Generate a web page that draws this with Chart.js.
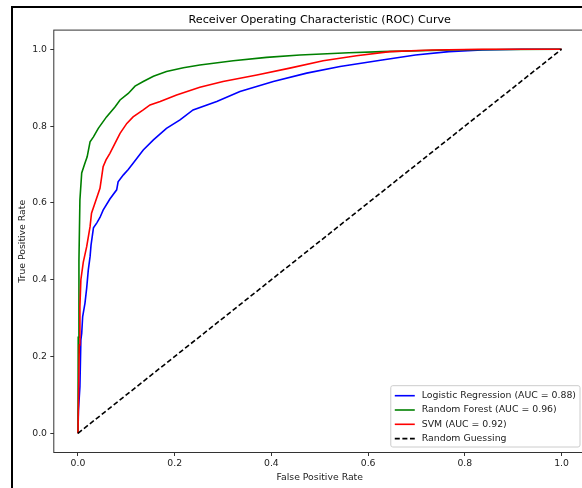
<!DOCTYPE html>
<html>
<head>
<meta charset="utf-8">
<title>ROC Curve</title>
<script src="https://cdn.jsdelivr.net/npm/chart.js@4.4.1/dist/chart.umd.min.js"></script>
<style>
  html, body { margin: 0; padding: 0; background: #fff; overflow: hidden; }
  #wrap { position: relative; width: 582px; height: 488px; overflow: hidden; background: #fff; }
  #rocChart { position: absolute; left: 0; top: 0; }
  #frame {
    position: absolute; left: 11px; top: 6px; width: 700px; height: 600px;
    border-left: 2px solid #000; border-top: 2px solid #000; pointer-events: none;
  }
</style>
</head>
<body>
<div id="wrap">
  <canvas id="rocChart" width="600" height="488"></canvas>
  <div id="frame"></div>
</div>
<script>
// ROC curve points (false positive rate / true positive rate) per model
const lrFpr = [0, 0.001, 0.004, 0.006, 0.0077, 0.0097, 0.0145, 0.018, 0.0213, 0.025,
               0.027, 0.032, 0.039, 0.0455, 0.052, 0.066, 0.08, 0.083, 0.094, 0.104,
               0.114, 0.135, 0.156, 0.183, 0.211, 0.238, 0.287, 0.335, 0.404, 0.473,
               0.542, 0.629, 0.698, 0.767, 0.836, 0.918, 1.0];
const lrTpr = [0, 0.06, 0.121, 0.243, 0.26, 0.304, 0.339, 0.378, 0.425, 0.46,
               0.49, 0.535, 0.548, 0.562, 0.581, 0.61, 0.634, 0.655, 0.673, 0.687,
               0.703, 0.738, 0.764, 0.794, 0.816, 0.842, 0.864, 0.89, 0.916, 0.938,
               0.955, 0.972, 0.985, 0.994, 0.998, 1.0, 1.0];

const rfFpr = [0, 0.0005, 0.002, 0.004, 0.0077, 0.0145, 0.019, 0.025, 0.032, 0.042,
               0.059, 0.0765, 0.087, 0.104, 0.118, 0.135, 0.156, 0.183, 0.218, 0.252,
               0.321, 0.39, 0.459, 0.56, 0.629, 0.79, 1.0];
const rfTpr = [0, 0.25, 0.45, 0.608, 0.678, 0.704, 0.72, 0.759, 0.772, 0.794,
               0.824, 0.85, 0.868, 0.885, 0.904, 0.916, 0.93, 0.942, 0.952, 0.959,
               0.97, 0.979, 0.985, 0.991, 0.994, 0.999, 1.0];

const svmFpr = [0, 0.0014, 0.0027, 0.004, 0.006, 0.011, 0.018, 0.025, 0.028, 0.035,
                0.042, 0.0455, 0.049, 0.052, 0.058, 0.066, 0.0765, 0.087, 0.101, 0.114,
                0.135, 0.149, 0.17, 0.204, 0.252, 0.3, 0.37, 0.438, 0.507, 0.576,
                0.645, 0.732, 0.836, 1.0];
const svmTpr = [0, 0.113, 0.23, 0.33, 0.40, 0.446, 0.486, 0.538, 0.573, 0.599,
                0.625, 0.638, 0.668, 0.694, 0.712, 0.729, 0.755, 0.781, 0.807, 0.824,
                0.842, 0.855, 0.864, 0.881, 0.901, 0.916, 0.933, 0.951, 0.97, 0.983,
                0.994, 0.998, 1.0, 1.0];

const diagFpr = [0, 1];
const diagTpr = [0, 1];

const aucValues = { lr: 0.88, rf: 0.96, svm: 0.92 };
const tickValues = [0, 0.2, 0.4, 0.6, 0.8, 1.0];

const FONT = 'DejaVu Sans';
const TEXT_COLOR = '#222';
const LINE_W = 1.6;

function toPoints(xs, ys) {
    return xs.map((x, i) => ({ x: x, y: ys[i] }));
}

// Box around the plot area (all four spines)
const plotFrame = {
    id: 'plotFrame',
    afterDatasetsDraw(chart) {
        const { ctx, chartArea: a } = chart;
        ctx.save();
        ctx.strokeStyle = '#333';
        ctx.lineWidth = 1;
        ctx.strokeRect(a.left, a.top, a.right - a.left, a.bottom - a.top);
        ctx.restore();
    }
};

// Legend box in the lower right corner of the plot
const cornerLegend = {
    id: 'cornerLegend',
    afterDraw(chart) {
        const { ctx, chartArea: a } = chart;
        const sets = chart.data.datasets;
        ctx.save();
        ctx.font = '9.35px "' + FONT + '"';
        const maxW = Math.max(...sets.map(d => ctx.measureText(d.label).width));
        const w = 31 + maxW + 4;
        const h = 61.3;
        const right = a.right - 5.7;
        const bottom = a.bottom - 5.5;
        const left = right - w;
        const top = bottom - h;

        ctx.beginPath();
        if (ctx.roundRect) ctx.roundRect(left, top, w, h, 2);
        else ctx.rect(left, top, w, h);
        ctx.fillStyle = 'rgba(255,255,255,0.8)';
        ctx.fill();
        ctx.strokeStyle = '#cccccc';
        ctx.lineWidth = 1;
        ctx.stroke();

        sets.forEach((d, i) => {
            const cy = top + 10 + i * 14.3;
            ctx.beginPath();
            ctx.setLineDash(d.borderDash || []);
            ctx.strokeStyle = d.borderColor;
            ctx.lineWidth = d.borderWidth;
            ctx.moveTo(left + 4, cy);
            ctx.lineTo(left + 24, cy);
            ctx.stroke();
            ctx.setLineDash([]);
            ctx.fillStyle = TEXT_COLOR;
            ctx.textBaseline = 'middle';
            ctx.textAlign = 'left';
            ctx.fillText(d.label, left + 31, cy);
        });
        ctx.restore();
    }
};

const tickFont = { family: FONT, size: 9.3 };

const rocCtx = document.getElementById('rocChart').getContext('2d');
const rocChart = new Chart(rocCtx, {
    type: 'scatter',
    data: {
        datasets: [{
            label: 'Logistic Regression (AUC = ' + aucValues.lr.toFixed(2) + ')',
            data: toPoints(lrFpr, lrTpr),
            borderColor: '#0000ff',
            borderWidth: LINE_W,
            order: 4
        }, {
            label: 'Random Forest (AUC = ' + aucValues.rf.toFixed(2) + ')',
            data: toPoints(rfFpr, rfTpr),
            borderColor: '#008000',
            borderWidth: LINE_W,
            order: 3
        }, {
            label: 'SVM (AUC = ' + aucValues.svm.toFixed(2) + ')',
            data: toPoints(svmFpr, svmTpr),
            borderColor: '#ff0000',
            borderWidth: LINE_W,
            order: 2
        }, {
            label: 'Random Guessing',
            data: toPoints(diagFpr, diagTpr),
            borderColor: '#000000',
            borderWidth: LINE_W,
            borderDash: [5, 2.6],
            order: 1
        }]
    },
    options: {
        responsive: false,
        animation: false,
        showLine: true,
        elements: {
            point: { radius: 0, hoverRadius: 0 },
            line: { tension: 0, fill: false }
        },
        layout: {
            padding: { left: 0, right: 14.3, top: 0, bottom: 0 }
        },
        scales: {
            x: {
                type: 'linear',
                min: -0.05,
                max: 1.05,
                afterFit: scale => { scale.height = 35.5; },
                afterBuildTicks: scale => { scale.ticks = tickValues.map(v => ({ value: v })); },
                ticks: {
                    callback: v => v.toFixed(1),
                    font: tickFont,
                    color: TEXT_COLOR,
                    padding: 1.7,
                    maxRotation: 0,
                    autoSkip: false
                },
                grid: {
                    display: true,
                    drawOnChartArea: false,
                    drawTicks: true,
                    tickLength: 3.5,
                    color: '#333',
                    lineWidth: 1
                },
                border: { display: false },
                title: {
                    display: true,
                    text: 'False Positive Rate',
                    font: tickFont,
                    color: TEXT_COLOR,
                    padding: { top: 0, bottom: 5.1 }
                }
            },
            y: {
                type: 'linear',
                min: -0.05,
                max: 1.05,
                afterFit: scale => { scale.width = 53.8; },
                afterBuildTicks: scale => { scale.ticks = tickValues.map(v => ({ value: v })); },
                ticks: {
                    callback: v => v.toFixed(1),
                    font: tickFont,
                    color: TEXT_COLOR,
                    padding: 3.3,
                    autoSkip: false
                },
                grid: {
                    display: true,
                    drawOnChartArea: false,
                    drawTicks: true,
                    tickLength: 3.5,
                    color: '#333',
                    lineWidth: 1
                },
                border: { display: false },
                title: {
                    display: true,
                    text: 'True Positive Rate',
                    font: tickFont,
                    color: TEXT_COLOR,
                    padding: { top: 16.9, bottom: 0 }
                }
            }
        },
        plugins: {
            legend: { display: false },
            tooltip: { enabled: false },
            title: {
                display: true,
                fullSize: false,
                text: 'Receiver Operating Characteristic (ROC) Curve',
                color: '#000',
                font: { family: FONT, size: 11.2, weight: 'normal' },
                padding: { top: 13.3, bottom: 3.36 }
            }
        }
    },
    plugins: [plotFrame, cornerLegend]
});
</script>
</body>
</html>
